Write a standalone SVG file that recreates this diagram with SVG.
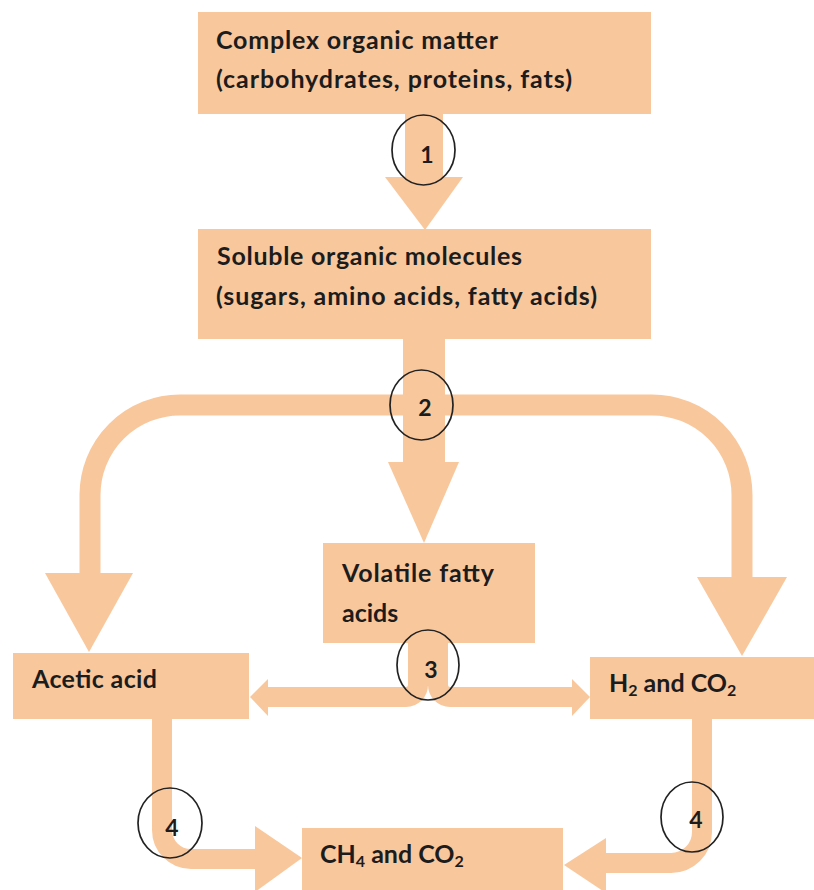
<svg xmlns="http://www.w3.org/2000/svg" width="814" height="890" viewBox="0 0 814 890">
  <style>
    .box { fill: #F9C79C; }
    .flow { fill: none; stroke: #F9C79C; }
    .head { fill: #F9C79C; }
    .lbl { font-family: Lato, "Liberation Sans", sans-serif; font-weight: 700; font-size: 25px; fill: #1c1c1c; }
    .num { font-family: Lato, "Liberation Sans", sans-serif; font-weight: 700; font-size: 23px; fill: #1c1c1c; text-anchor: middle; }
    .ring { fill: none; stroke: #222; stroke-width: 1.7; }
  </style>
  <rect width="814" height="890" fill="#ffffff"/>

  <g id="connectors">
    <!-- step 1 -->
    <path class="flow" d="M424,113 V178" stroke-width="38"/>
    <polygon class="head" points="385,177 463,177 425,230"/>
    <!-- step 2 -->
    <path class="flow" d="M424,339 V463" stroke-width="42"/>
    <polygon class="head" points="388,462 459,462 424,543"/>
    <path class="flow" d="M424,405 H180 A90,90 0 0 0 90,495 V574" stroke-width="21"/>
    <polygon class="head" points="45,573 133,573 89,652"/>
    <path class="flow" d="M424,405 H652 A90,90 0 0 1 742,495 V578" stroke-width="21"/>
    <polygon class="head" points="697,577 787,577 742,656"/>
    <!-- step 3 -->
    <rect class="head" x="408" y="643" width="40" height="43"/>
    <path class="flow" d="M418,643 V685 A12,12 0 0 1 406,697 H268" stroke-width="20"/>
    <polygon class="head" points="268,679 268,716 250,697"/>
    <path class="flow" d="M438,643 V685 A12,12 0 0 0 450,697 H573" stroke-width="20"/>
    <polygon class="head" points="572,679 572,716 590,697"/>
    <!-- step 4 -->
    <path class="flow" d="M162,719 V830 A29,29 0 0 0 191,859 H256" stroke-width="20"/>
    <polygon class="head" points="255,826 255,892 302,858"/>
    <path class="flow" d="M702,719 V832 A31,31 0 0 1 671,863 H605" stroke-width="20"/>
    <polygon class="head" points="606,838 606,893 564,865"/>
  </g>

  <g id="complex-organic-matter">
    <rect class="box" x="198" y="12" width="453" height="102"/>
    <text class="lbl" x="216" y="49" textLength="282">Complex organic matter</text>
    <text class="lbl" x="216" y="88" textLength="356">(carbohydrates, proteins, fats)</text>
  </g>

  <g id="soluble-organic-molecules">
    <rect class="box" x="198" y="229" width="453" height="110"/>
    <text class="lbl" x="217" y="265" textLength="305">Soluble organic molecules</text>
    <text class="lbl" x="216" y="305" textLength="381">(sugars, amino acids, fatty acids)</text>
  </g>

  <g id="volatile-fatty-acids">
    <rect class="box" x="323" y="543" width="212" height="100"/>
    <text class="lbl" x="342" y="582" textLength="152">Volatile fatty</text>
    <text class="lbl" x="342" y="622">acids</text>
  </g>

  <g id="acetic-acid">
    <rect class="box" x="13" y="653" width="236" height="66"/>
    <text class="lbl" x="32" y="688" textLength="125">Acetic acid</text>
  </g>

  <g id="h2-co2">
    <rect class="box" x="590" y="657" width="230" height="62"/>
    <text class="lbl" x="609" y="692">H<tspan font-size="16" dy="4">2</tspan><tspan dy="-4"> and CO</tspan><tspan font-size="16" dy="4">2</tspan></text>
  </g>

  <g id="ch4-co2">
    <rect class="box" x="302" y="828" width="261" height="70"/>
    <text class="lbl" x="320" y="863">CH<tspan font-size="16" dy="4">4</tspan><tspan dy="-4"> and CO</tspan><tspan font-size="16" dy="4">2</tspan></text>
  </g>

  <g id="step-1">
    <ellipse class="ring" cx="423.5" cy="150" rx="31.5" ry="35"/>
    <text class="num" x="427" y="163">1</text>
  </g>
  <g id="step-2">
    <ellipse class="ring" cx="421.5" cy="405" rx="31.5" ry="35"/>
    <text class="num" x="425" y="416">2</text>
  </g>
  <g id="step-3">
    <ellipse class="ring" cx="428" cy="665" rx="31" ry="35"/>
    <text class="num" x="431" y="678">3</text>
  </g>
  <g id="step-4-left">
    <ellipse class="ring" cx="170" cy="823" rx="32" ry="35"/>
    <text class="num" x="172" y="836">4</text>
  </g>
  <g id="step-4-right">
    <ellipse class="ring" cx="692" cy="817" rx="31" ry="35"/>
    <text class="num" x="696" y="828">4</text>
  </g>
</svg>
